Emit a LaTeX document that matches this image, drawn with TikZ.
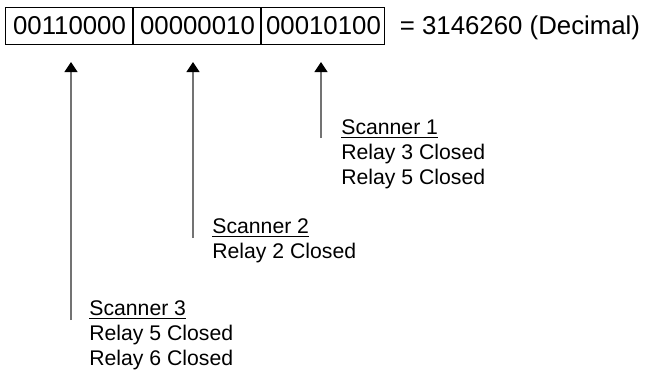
\documentclass[tikz,border=0pt]{standalone}
\usepackage{fontspec}
\setmainfont{Liberation Sans}
\usetikzlibrary{arrows.meta,positioning}

\begin{document}
\begin{tikzpicture}[
  x=0.5pt, y=-0.5pt,
  cell/.style={draw, line width=0.5pt, inner sep=0pt, minimum width=63.5pt,
               minimum height=18.5pt, font=\fontsize{12.9}{15}\selectfont},
  note/.style={anchor=north west, inner sep=0pt, align=left,
               font=\fontsize{10.6}{12.5}\selectfont},
  ptr/.style={draw=black!55, line width=0.6pt,
              -{Triangle[length=5pt,width=6.5pt,color=black]}}
]
  \useasboundingbox (0,0) rectangle (645,371);

  \node[cell] (b3) at (69.5,25.5) {00110000};
  \node[cell, right=0pt of b3] (b2) {00000010};
  \node[cell, right=0pt of b2, minimum width=61.5pt] (b1) {00010100};
  \node[right=7pt of b1.base east, anchor=base west, inner sep=0pt,
        font=\fontsize{12.9}{15}\selectfont] (dec) {= 3146260 (Decimal)};

  \node[note] (s1) at (341,119) {\underline{Scanner 1}\\Relay 3 Closed\\Relay 5 Closed};
  \node[note] (s2) at (212,218) {\underline{Scanner 2}\\Relay 2 Closed};
  \node[note] (s3) at (89,300) {\underline{Scanner 3}\\Relay 5 Closed\\Relay 6 Closed};

  % arrow tips and free ends
  \coordinate (t1) at (321,62);  \coordinate (e1) at (321,138);
  \coordinate (t2) at (193,62);  \coordinate (e2) at (193,238);
  \coordinate (t3) at (71,62);   \coordinate (e3) at (71,320);

  \draw[ptr] (e1) -- (t1);
  \draw[ptr] (e2) -- (t2);
  \draw[ptr] (e3) -- (t3);
\end{tikzpicture}
\end{document}
